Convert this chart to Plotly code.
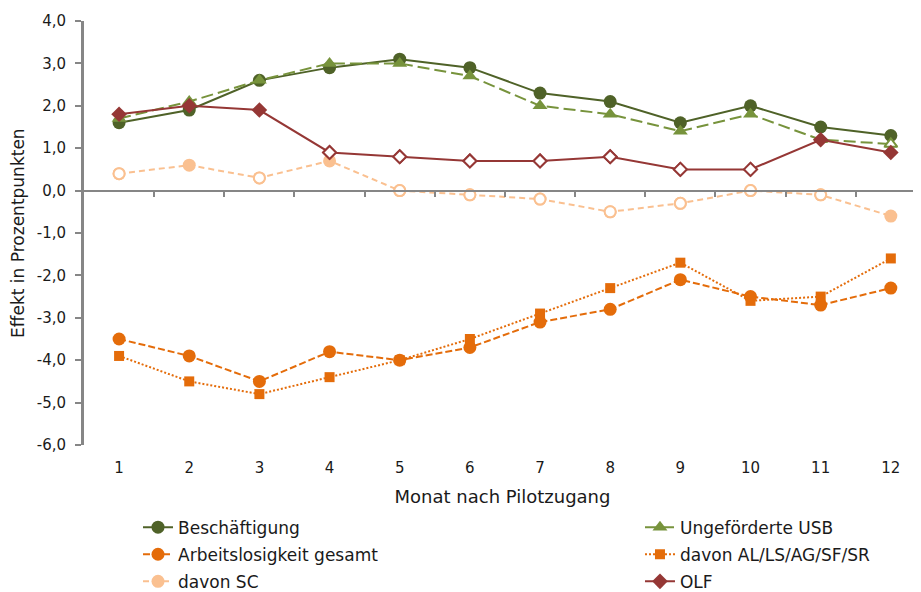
import plotly.graph_objects as go

months = list(range(1, 13))
month_labels = [str(m) for m in months]
y_ticks = [4, 3, 2, 1, 0, -1, -2, -3, -4, -5, -6]
y_tick_labels = ["4,0", "3,0", "2,0", "1,0", "0,0", "-1,0", "-2,0", "-3,0", "-4,0", "-5,0", "-6,0"]

beschaeftigung = [1.6, 1.9, 2.6, 2.9, 3.1, 2.9, 2.3, 2.1, 1.6, 2.0, 1.5, 1.3]
usb = [1.7, 2.1, 2.6, 3.0, 3.0, 2.7, 2.0, 1.8, 1.4, 1.8, 1.2, 1.1]
arbeitslos = [-3.5, -3.9, -4.5, -3.8, -4.0, -3.7, -3.1, -2.8, -2.1, -2.5, -2.7, -2.3]
al_ls = [-3.9, -4.5, -4.8, -4.4, -4.0, -3.5, -2.9, -2.3, -1.7, -2.6, -2.5, -1.6]
sc = [0.4, 0.6, 0.3, 0.7, 0.0, -0.1, -0.2, -0.5, -0.3, 0.0, -0.1, -0.6]
olf = [1.8, 2.0, 1.9, 0.9, 0.8, 0.7, 0.7, 0.8, 0.5, 0.5, 1.2, 0.9]

# significance flags (True = filled marker, False = open marker)
sig_usb = [True] * 11 + [False]
sig_sc = [False, True, False, True, False, False, False, False, False, False, False, True]
sig_olf = [True, True, True, False, False, False, False, False, False, False, True, True]

C_BESCH = "#4F6228"
C_USB = "#77933C"
C_AL = "#E46C0A"
C_SC = "#FAC090"
C_OLF = "#953735"
AXIS = "#868686"
FONT = "DejaVu Sans"
FS = 15
X_RANGE = [0.5, 12.43]

fig = go.Figure()

def add(name, y, color, dash, symbol, size, legend, sig=None):
    fig.add_trace(go.Scatter(
        x=months, y=y, name=name, mode="lines+markers",
        line=dict(color=color, width=2, dash=dash),
        marker=dict(symbol=symbol, size=size, color=color),
        legend=legend, legendgroup=name,
    ))
    if sig is not None:
        yo = [v if not s else None for v, s in zip(y, sig)]
        fig.add_trace(go.Scatter(
            x=months, y=yo, mode="markers", showlegend=False, hoverinfo="skip",
            marker=dict(symbol=symbol, size=size - 2, color="white",
                        line=dict(color=color, width=2)),
        ))

add("Beschäftigung", beschaeftigung, C_BESCH, "solid", "circle", 13, "legend")
add("Ungeförderte USB", usb, C_USB, "12px,5px", "triangle-up", 13, "legend2", sig_usb)
add("Arbeitslosigkeit gesamt", arbeitslos, C_AL, "7px,3px", "circle", 13, "legend")
add("davon AL/LS/AG/SF/SR", al_ls, C_AL, "2px,2px", "square", 10, "legend2")
add("davon SC", sc, C_SC, "6px,4px", "circle", 13, "legend", sig_sc)
add("OLF", olf, C_OLF, "solid", "diamond", 12, "legend2", sig_olf)

# dummy trace on zero-line axis
fig.add_trace(go.Scatter(x=[1], y=[0], xaxis="x2", mode="markers",
                         marker=dict(opacity=0), showlegend=False, hoverinfo="skip"))

leg_common = dict(xref="container", yref="container", xanchor="left", yanchor="top",
                  y=0.1411, font=dict(size=17, family=FONT, color="#1a1a1a"),
                  traceorder="grouped", tracegroupgap=2,
                  bgcolor="rgba(0,0,0,0)")

fig.update_layout(
    width=913, height=584,
    margin=dict(l=76, r=0, t=13, b=147, autoexpand=False),
    paper_bgcolor="white", plot_bgcolor="white",
    font=dict(family=FONT, size=FS, color="#1a1a1a"),
    showlegend=True,
    legend=dict(x=0.1424, **leg_common),
    legend2=dict(x=0.6922, **leg_common),
    xaxis=dict(range=X_RANGE, tickvals=months, ticktext=month_labels,
               showline=False, ticks="", showgrid=False, zeroline=False,
               ticklabelstandoff=12,
               title=dict(text="Monat nach Pilotzugang", standoff=14,
                          font=dict(size=18))),
    xaxis2=dict(overlaying="x", anchor="free", position=0.6, range=X_RANGE,
                tickvals=[m + 0.5 for m in months], showticklabels=False,
                ticks="outside", ticklen=5, tickcolor=AXIS, tickwidth=2,
                showline=True, linecolor=AXIS, linewidth=2, showgrid=False,
                zeroline=False, side="bottom"),
    yaxis=dict(range=[-6, 4], tickvals=y_ticks, ticktext=y_tick_labels,
               showline=True, linecolor=AXIS, linewidth=3,
               ticks="outside", ticklen=6, tickcolor=AXIS, tickwidth=2,
               showgrid=False, zeroline=False, ticklabelstandoff=6),
    annotations=[dict(text="Effekt in Prozentpunkten", textangle=-90,
                      xref="paper", yref="paper", x=-0.0789, y=0.5,
                      xanchor="center", yanchor="middle", showarrow=False,
                      font=dict(size=17, family=FONT, color="#1a1a1a"))],
)

fig.write_html("out.html")
